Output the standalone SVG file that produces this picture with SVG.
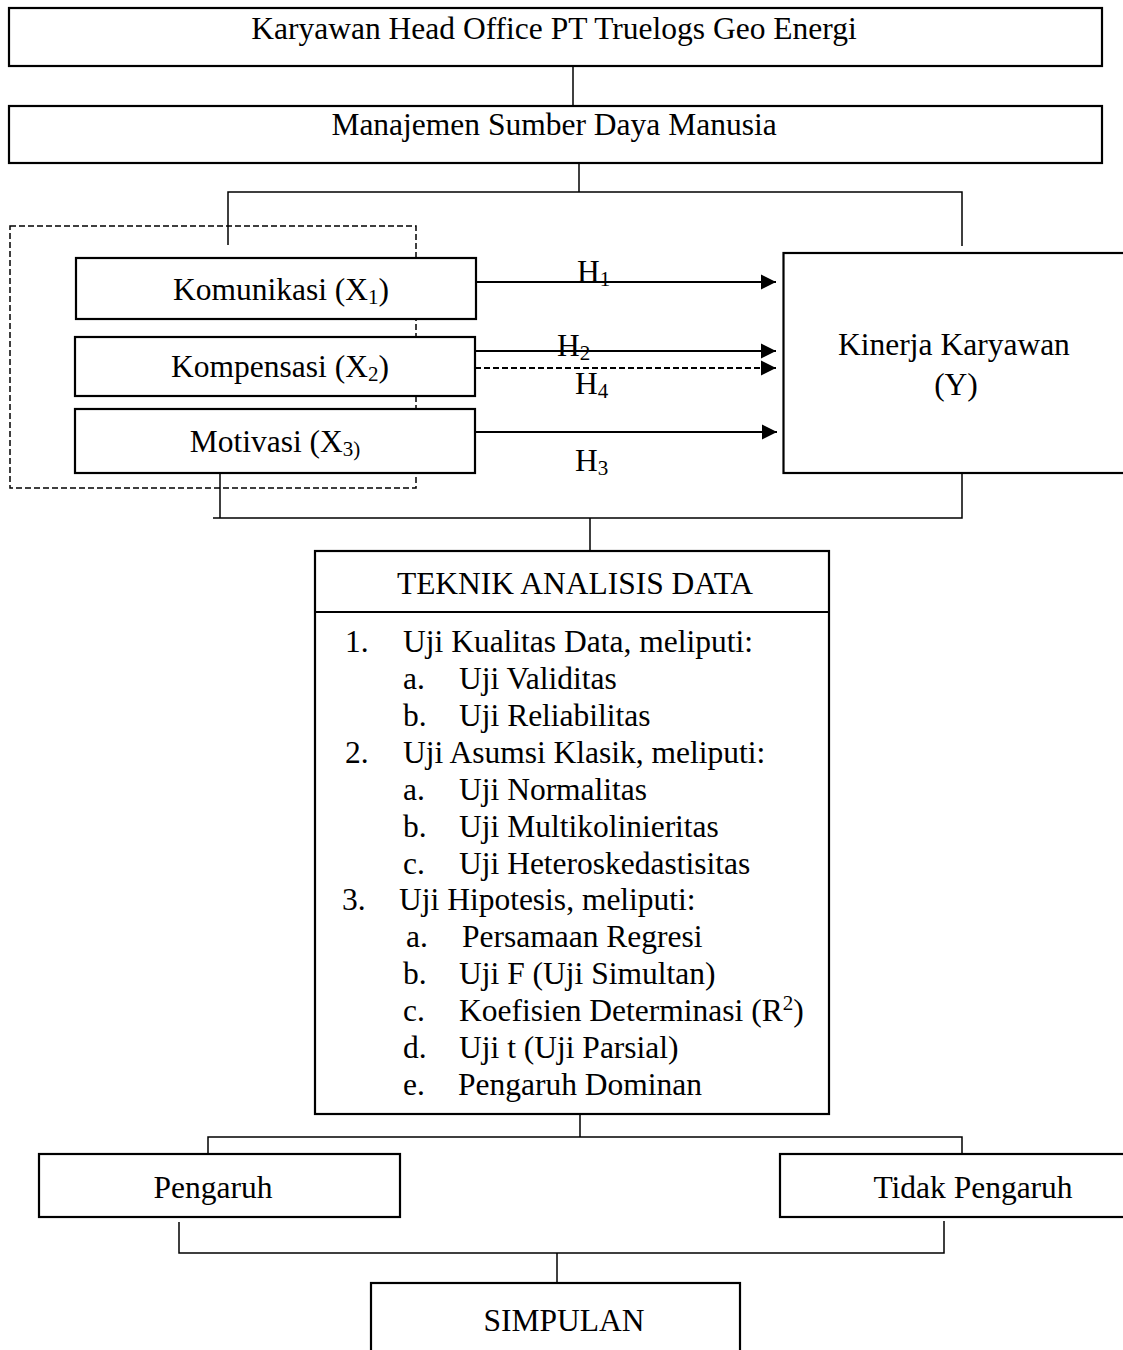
<svg xmlns="http://www.w3.org/2000/svg" width="1123" height="1350" viewBox="0 0 1123 1350">
<style>
text{font-family:"Liberation Serif","Times New Roman",serif;font-size:31.5px;fill:#000}
.c{text-anchor:middle}
.box{fill:#fff;stroke:#000;stroke-width:2.2}
.ln{fill:none;stroke:#000;stroke-width:1.5}
.ar{fill:none;stroke:#000;stroke-width:2}
.dash{stroke-dasharray:6 3}
.sub{font-size:21px}
</style>
<defs>
<marker id="ah" markerUnits="userSpaceOnUse" markerWidth="16" markerHeight="16" refX="15" refY="8" orient="auto">
<path d="M0,0.5 L15,8 L0,15.5 Z" fill="#000"/>
</marker>
</defs>
<rect width="1123" height="1350" fill="#fff"/>
<g id="connectors">
<line class="ln" x1="573" y1="66" x2="573" y2="106"/>
<line class="ln" x1="579" y1="163" x2="579" y2="192"/>
<polyline class="ln" points="228,245 228,192 962,192 962,246"/>
<rect class="ln dash" x="10" y="226" width="406" height="262"/>
<line class="ar" x1="476" y1="282" x2="776" y2="282" marker-end="url(#ah)"/>
<line class="ar" x1="475" y1="351" x2="776" y2="351" marker-end="url(#ah)"/>
<line class="ar dash" x1="475" y1="368" x2="776" y2="368" marker-end="url(#ah)"/>
<line class="ar" x1="476" y1="432" x2="777" y2="432" marker-end="url(#ah)"/>
<polyline class="ln" points="220,473 220,518"/>
<polyline class="ln" points="213,518 962,518 962,473"/>
<line class="ln" x1="590" y1="518" x2="590" y2="551"/>
<line class="ln" x1="580" y1="1114" x2="580" y2="1137"/>
<polyline class="ln" points="208,1162 208,1137 962,1137 962,1160"/>
<polyline class="ln" points="179,1222 179,1253 944,1253 944,1221"/>
<line class="ln" x1="557" y1="1253" x2="557" y2="1283"/>
</g>
<g id="n-karyawan">
<rect class="box" x="9" y="8" width="1093" height="58"/>
<text class="c" x="554" y="39">Karyawan Head Office PT Truelogs Geo Energi</text>
</g>
<g id="n-msdm">
<rect class="box" x="9" y="106" width="1093" height="57"/>
<text class="c" x="554" y="135">Manajemen Sumber Daya Manusia</text>
</g>
<g id="n-komunikasi">
<rect class="box" x="76" y="258" width="400" height="61"/>
<text class="c" x="281" y="300">Komunikasi (X<tspan class="sub" dy="4">1</tspan><tspan dy="-4">)</tspan></text>
</g>
<g id="n-kompensasi">
<rect class="box" x="75" y="337" width="400" height="59"/>
<text class="c" x="280" y="377">Kompensasi (X<tspan class="sub" dy="4">2</tspan><tspan dy="-4">)</tspan></text>
</g>
<g id="n-motivasi">
<rect class="box" x="75" y="409" width="400" height="64"/>
<text class="c" x="275" y="452">Motivasi (X<tspan class="sub" dy="4">3)</tspan></text>
</g>
<g id="labels">
<text x="577" y="282">H<tspan class="sub" dy="4">1</tspan></text>
<text x="557" y="356">H<tspan class="sub" dy="4">2</tspan></text>
<text x="575" y="394">H<tspan class="sub" dy="4">4</tspan></text>
<text x="575" y="471">H<tspan class="sub" dy="4">3</tspan></text>
</g>
<g id="n-kinerja">
<rect class="box" x="783.5" y="253" width="350" height="220"/>
<text class="c" x="954" y="355">Kinerja Karyawan</text>
<text class="c" x="956" y="395">(Y)</text>
</g>
<g id="n-teknik">
<rect class="box" x="315" y="551" width="514" height="563"/>
<line class="box" x1="315" y1="612" x2="829" y2="612"/>
<text class="c" x="575" y="594">TEKNIK ANALISIS DATA</text>
<text x="345" y="652">1.</text><text x="403" y="652">Uji Kualitas Data, meliputi:</text>
<text x="403" y="689">a.</text><text x="459" y="689">Uji Validitas</text>
<text x="403" y="726">b.</text><text x="459" y="726">Uji Reliabilitas</text>
<text x="345" y="763">2.</text><text x="403" y="763">Uji Asumsi Klasik, meliputi:</text>
<text x="403" y="800">a.</text><text x="459" y="800">Uji Normalitas</text>
<text x="403" y="837">b.</text><text x="459" y="837">Uji Multikolinieritas</text>
<text x="403" y="874">c.</text><text x="459" y="874">Uji Heteroskedastisitas</text>
<text x="342" y="910">3.</text><text x="399" y="910">Uji Hipotesis, meliputi:</text>
<text x="406" y="947">a.</text><text x="462" y="947">Persamaan Regresi</text>
<text x="403" y="984">b.</text><text x="459" y="984">Uji F (Uji Simultan)</text>
<text x="403" y="1021">c.</text><text x="459" y="1021">Koefisien Determinasi (R<tspan class="sub" dy="-11">2</tspan><tspan dy="11">)</tspan></text>
<text x="403" y="1058">d.</text><text x="459" y="1058">Uji t (Uji Parsial)</text>
<text x="403" y="1095">e.</text><text x="458" y="1095">Pengaruh Dominan</text>
</g>
<g id="n-pengaruh">
<rect class="box" x="39" y="1154" width="361" height="63"/>
<text class="c" x="213" y="1198">Pengaruh</text>
</g>
<g id="n-tidak">
<rect class="box" x="780" y="1154" width="360" height="63"/>
<text class="c" x="973" y="1198">Tidak Pengaruh</text>
</g>
<g id="n-simpulan">
<rect class="box" x="371" y="1283" width="369" height="100"/>
<text class="c" x="564" y="1331">SIMPULAN</text>
</g>
</svg>
